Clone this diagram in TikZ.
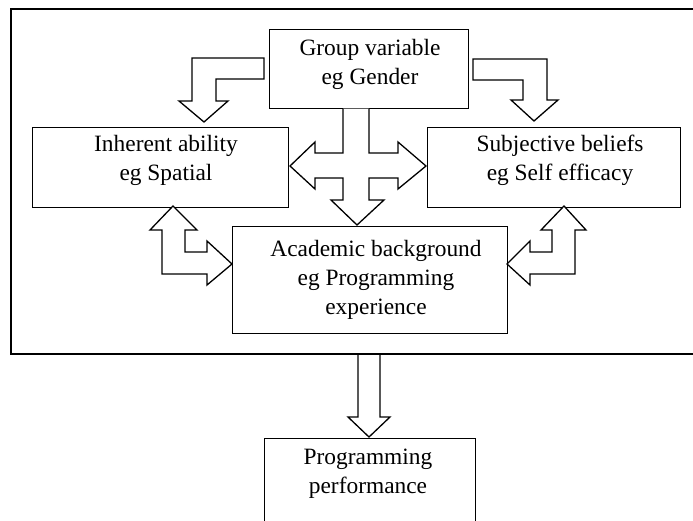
\documentclass[tikz,border=0pt]{standalone}
\usepackage{fontspec}
\setmainfont{Liberation Serif}
\begin{document}
\begin{tikzpicture}[x=1pt,y=-1pt,
  box/.style={draw,line width=1.3pt,rectangle,inner sep=0pt,anchor=north west},
  lbl/.style={align=center,inner sep=0pt,font=\fontsize{23.4}{29}\selectfont},
  blockarrow/.style={draw,line width=1.3pt,line join=miter,fill=white}]
\useasboundingbox (0,0) rectangle (693,520);
\clip (0,0) rectangle (693,520);
% outer frame
\draw[line width=1.8pt] (700,9) -- (11,9) -- (11,354) -- (700,354);
% boxes
\node[box,minimum width=199pt,minimum height=79pt] (grp) at (269,29) {};
\node[box,minimum width=256pt,minimum height=80pt] (inh) at (32,127) {};
\node[box,minimum width=253pt,minimum height=80pt] (sub) at (427,127) {};
\node[box,minimum width=275pt,minimum height=107pt] (acad) at (232,226) {};
\node[box,minimum width=211pt,minimum height=90pt] (prog) at (264,438) {};
% labels
\node[lbl] (grpl) at (370,64) {Group variable\\eg Gender};
\node[lbl] (inhl) at (166,160) {Inherent ability\\eg Spatial};
\node[lbl] (subl) at (560,160) {Subjective beliefs\\eg Self efficacy};
\node[lbl] (acadl) at (376,280) {Academic background\\eg Programming\\experience};
\node[lbl] (progl) at (368,474) {Programming\\performance};
% bent arrow group -> inherent
\draw[blockarrow] (264,58) -- (192,58) -- (192,101) -- (179,101) -- (204,122) -- (228,101) -- (216,101) -- (216,79) -- (264,79) -- cycle;
% bent arrow group -> subjective
\draw[blockarrow] (473,59) -- (547,59) -- (547,100) -- (558,100) -- (534,121) -- (511,100) -- (523,100) -- (523,80) -- (473,80) -- cycle;
% cross arrow
\draw[blockarrow] (343,108.6) -- (343,153) -- (315,153) -- (315,142) -- (290,166) -- (315,189) -- (315,178) -- (343,178) -- (343,200) -- (331,200) -- (357,225) -- (384,200) -- (369,200) -- (369,178) -- (398,178) -- (398,189) -- (426,166) -- (398,142) -- (398,153) -- (369,153) -- (369,108.6);
% left double arrow inherent <-> academic
\draw[blockarrow] (173,206) -- (197,230) -- (185,230) -- (185,252) -- (207,252) -- (207,241) -- (232,264) -- (207,285) -- (207,274) -- (162,274) -- (162,230) -- (150,230) -- cycle;
% right double arrow subjective <-> academic
\draw[blockarrow] (564,206) -- (586,230) -- (575,230) -- (575,274) -- (530,274) -- (530,285) -- (507,264) -- (530,241) -- (530,252) -- (552,252) -- (552,230) -- (541,230) -- cycle;
% down arrow to performance
\draw[blockarrow] (358,355) -- (358,417) -- (348,417) -- (369,437) -- (390,417) -- (380,417) -- (380,355);
\end{tikzpicture}
\end{document}
